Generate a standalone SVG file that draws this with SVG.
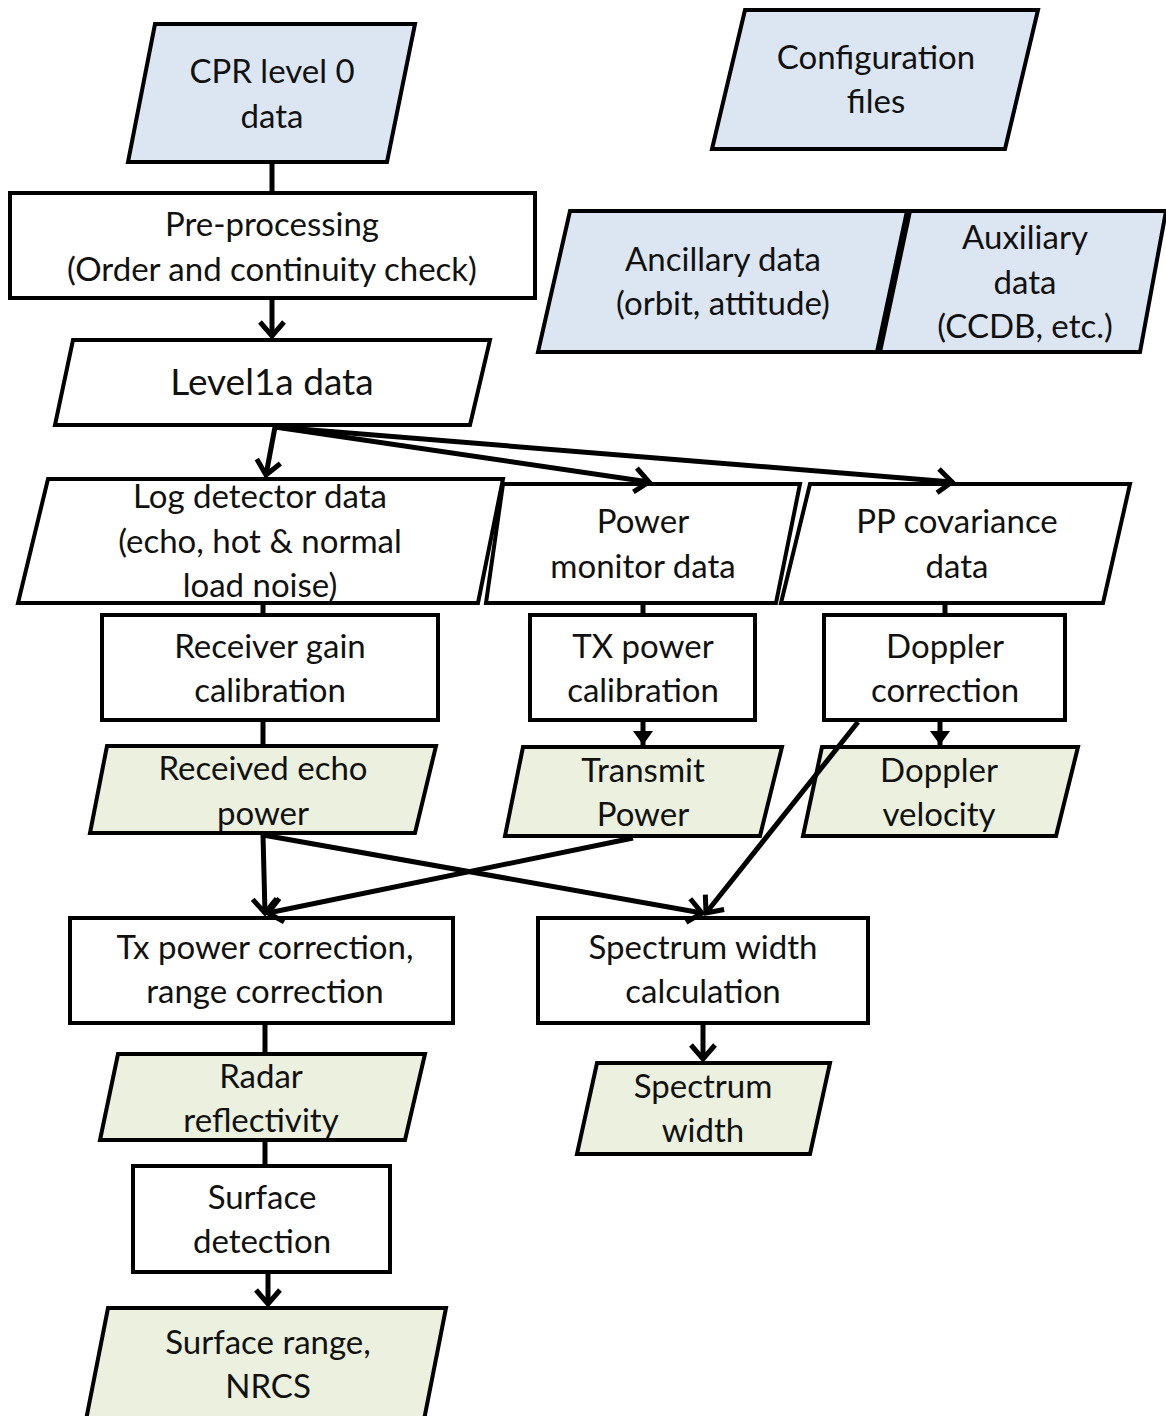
<svg xmlns="http://www.w3.org/2000/svg" width="1166" height="1416" viewBox="0 0 1166 1416">
<style>
.shape{stroke:#000;stroke-width:4;stroke-linejoin:miter}
.in{fill:#dce6f2}
.out{fill:#ebf1de}
.plain{fill:#fff}
text{font-family:Lato,"Liberation Sans",sans-serif;font-size:33px;fill:#111;text-anchor:middle}
.big{font-size:37px}
.conn{stroke:#000;stroke-width:5;fill:none}
</style>
<defs>
<marker id="chev" markerUnits="userSpaceOnUse" markerWidth="40" markerHeight="40" viewBox="-20 -20 40 40" refX="0" refY="0" orient="auto">
<path d="M-14,-12 L0,0 L-14,12" fill="none" stroke="#000" stroke-width="5"/>
</marker>
<marker id="tri" markerUnits="userSpaceOnUse" markerWidth="30" markerHeight="30" viewBox="-15 -15 30 30" refX="0" refY="0" orient="auto">
<path d="M-14,-10 L0,0 L-14,10 Z" fill="#000"/>
</marker>
</defs>
<rect width="1166" height="1416" fill="#fff"/>

<g id="cpr-level0">
<polygon class="shape in" points="155,24 415,24 387,162 128,162"/>
<text x="272" y="83">CPR level 0</text>
<text x="272" y="128">data</text>
</g>

<g id="config-files">
<polygon class="shape in" points="745,10 1038,10 1005,149 712,149"/>
<text x="876" y="69">Configuration</text>
<text x="876" y="113">files</text>
</g>

<g id="preprocessing">
<rect class="shape plain" x="10" y="193" width="525" height="105"/>
<text x="272" y="236">Pre-processing</text>
<text x="272" y="281">(Order and continuity check)</text>
</g>

<g id="ancillary">
<polygon class="shape in" points="570,211 907,211 877,352 538,352"/>
<text x="723" y="271">Ancillary data</text>
<text x="723" y="315">(orbit, attitude)</text>
</g>

<g id="auxiliary">
<polygon class="shape in" points="910,211 1166,211 1140,352 880,352"/>
<text x="1025" y="249">Auxiliary</text>
<text x="1025" y="294">data</text>
<text x="1025" y="338">(CCDB, etc.)</text>
</g>

<g id="level1a">
<polygon class="shape plain" points="73,340 490,340 470,425 55,425"/>
<text class="big" x="272" y="395">Level1a data</text>
</g>

<g id="log-detector">
<polygon class="shape plain" points="48,479 503,479 478,603 18,603"/>
<text x="260" y="508">Log detector data</text>
<text x="260" y="553">(echo, hot &amp; normal</text>
<text x="260" y="597">load noise)</text>
</g>

<g id="power-monitor">
<polygon class="shape plain" points="503,484 800,484 776,603 486,603"/>
<text x="643" y="533">Power</text>
<text x="643" y="578">monitor data</text>
</g>

<g id="pp-covariance">
<polygon class="shape plain" points="810,484 1130,484 1103,603 781,603"/>
<text x="957" y="533">PP covariance</text>
<text x="957" y="578">data</text>
</g>

<g id="receiver-gain">
<rect class="shape plain" x="102" y="615" width="336" height="105"/>
<text x="270" y="658">Receiver gain</text>
<text x="270" y="702">calibration</text>
</g>

<g id="tx-power-cal">
<rect class="shape plain" x="530" y="615" width="225" height="105"/>
<text x="643" y="658">TX power</text>
<text x="643" y="702">calibration</text>
</g>

<g id="doppler-correction">
<rect class="shape plain" x="824" y="615" width="241" height="105"/>
<text x="945" y="658">Doppler</text>
<text x="945" y="702">correction</text>
</g>

<g id="received-echo">
<polygon class="shape out" points="107,746 436,746 415,833 90,833"/>
<text x="263" y="780">Received echo</text>
<text x="263" y="825">power</text>
</g>

<g id="transmit-power">
<polygon class="shape out" points="523,747 782,747 760,836 505,836"/>
<text x="643" y="782">Transmit</text>
<text x="643" y="826">Power</text>
</g>

<g id="doppler-velocity">
<polygon class="shape out" points="822,747 1078,747 1056,836 803,836"/>
<text x="939" y="782">Doppler</text>
<text x="939" y="826">velocity</text>
</g>

<g id="tx-power-correction">
<rect class="shape plain" x="70" y="918" width="383" height="105"/>
<text x="265" y="959">Tx power correction,</text>
<text x="265" y="1003">range correction</text>
</g>

<g id="spectrum-width-calc">
<rect class="shape plain" x="538" y="918" width="330" height="105"/>
<text x="703" y="959">Spectrum width</text>
<text x="703" y="1003">calculation</text>
</g>

<g id="radar-reflectivity">
<polygon class="shape out" points="118,1054 425,1054 405,1140 100,1140"/>
<text x="261" y="1088">Radar</text>
<text x="261" y="1132">reflectivity</text>
</g>

<g id="spectrum-width">
<polygon class="shape out" points="597,1063 830,1063 810,1154 577,1154"/>
<text x="703" y="1098">Spectrum</text>
<text x="703" y="1142">width</text>
</g>

<g id="surface-detection">
<rect class="shape plain" x="133" y="1166" width="257" height="106"/>
<text x="262" y="1209">Surface</text>
<text x="262" y="1253">detection</text>
</g>

<g id="surface-range">
<polygon class="shape out" points="108,1308 446,1308 424,1420 86,1420"/>
<text x="268" y="1354">Surface range,</text>
<text x="268" y="1398">NRCS</text>
</g>

<g id="connectors">
<line class="conn" x1="272" y1="164" x2="272" y2="191"/>
<line class="conn" x1="272" y1="300" x2="272" y2="336" marker-end="url(#chev)"/>
<line class="conn" x1="275" y1="427" x2="266" y2="475" marker-end="url(#chev)"/>
<line class="conn" x1="275" y1="427" x2="649" y2="482" marker-end="url(#chev)"/>
<line class="conn" x1="275" y1="427" x2="952" y2="482" marker-end="url(#chev)"/>
<line class="conn" x1="263" y1="605" x2="263" y2="613"/>
<line class="conn" x1="643" y1="605" x2="643" y2="613"/>
<line class="conn" x1="945" y1="605" x2="945" y2="613"/>
<line class="conn" x1="263" y1="722" x2="263" y2="744"/>
<line class="conn" x1="643" y1="722" x2="643" y2="745" marker-end="url(#tri)"/>
<line class="conn" x1="940" y1="722" x2="940" y2="745" marker-end="url(#tri)"/>
<line class="conn" x1="263" y1="835" x2="265" y2="913" marker-end="url(#chev)"/>
<line class="conn" x1="263" y1="835" x2="702" y2="913" marker-end="url(#chev)"/>
<line class="conn" x1="633" y1="838" x2="268" y2="913" marker-end="url(#chev)"/>
<line class="conn" x1="858" y1="722" x2="706" y2="913" marker-end="url(#chev)"/>
<line class="conn" x1="265" y1="1025" x2="265" y2="1052"/>
<line class="conn" x1="703" y1="1025" x2="703" y2="1059" marker-end="url(#chev)"/>
<line class="conn" x1="265" y1="1142" x2="265" y2="1164"/>
<line class="conn" x1="268" y1="1274" x2="268" y2="1304" marker-end="url(#chev)"/>
</g>
</svg>
